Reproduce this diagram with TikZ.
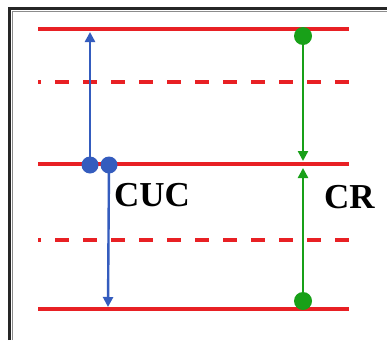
\documentclass[tikz,border=0pt]{standalone}
\usepackage{fontspec}
\setmainfont{Liberation Serif}
\usetikzlibrary{arrows.meta}
\definecolor{lvred}{RGB}{232,32,36}
\definecolor{tblue}{RGB}{52,92,190}
\definecolor{tgreen}{RGB}{24,160,24}
\begin{document}
\begin{tikzpicture}[x=1pt,y=-1pt,
  level/.style={lvred,line width=3.5pt},
  dlevel/.style={lvred,line width=3.5pt,dash pattern=on 14pt off 14pt,dash phase=11pt},
  bdot/.style={circle,fill=tblue,inner sep=0pt,minimum size=17pt},
  gdot/.style={circle,fill=tgreen,inner sep=0pt,minimum size=18pt},
  barrow/.style={tblue,line width=2.4pt,-{Triangle[length=10pt,width=10pt]}},
  garrow/.style={tgreen,line width=2.4pt,-{Triangle[length=10pt,width=10pt]}},
  lbl/.style={font=\bfseries\fontsize{35}{38}\selectfont,inner sep=0pt,anchor=west}]
\useasboundingbox (0,0) rectangle (387,340);
\fill[white] (0,0) rectangle (387,340);
% frame
\draw[black!85,line width=2.5pt] (9.5,340) -- (9.5,8.5) -- (387,8.5);
\draw[black!45,line width=1pt] (12.5,340) -- (12.5,11.5) -- (387,11.5);
% levels
\draw[level] (38,29) -- (349,29);
\draw[dlevel] (38,82) -- (349,82);
\draw[level] (38,164) -- (349,164);
\draw[dlevel] (38,240) -- (349,240);
\draw[level] (38,309) -- (349,309);
% CUC
\node[bdot] (b1) at (90,165) {};
\node[bdot] (b2) at (109,165) {};
\coordinate (btop) at (90,32);
\coordinate (bbot) at (108,307);
\draw[barrow] (b1.center) -- (btop);
\draw[barrow] (b2.center) -- (bbot);
% CR
\node[gdot] (g1) at (303,36) {};
\node[gdot] (g2) at (303,301) {};
\coordinate (gm1) at (303,161);
\coordinate (gm2) at (303,168);
\draw[garrow] (g1.center) -- (gm1);
\draw[garrow] (g2.center) -- (gm2);
% labels
\node[lbl] (cuc) at (114,195) {CUC};
\node[lbl] (cr) at (324,197) {CR};
\end{tikzpicture}
\end{document}
